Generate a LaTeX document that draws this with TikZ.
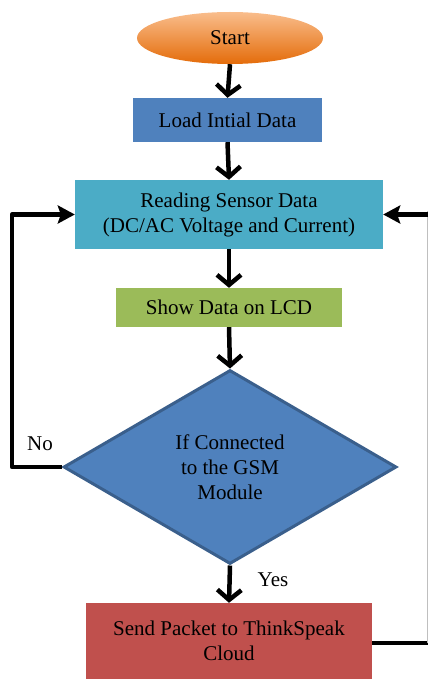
\documentclass[tikz,border=0pt]{standalone}
\usepackage{fontspec}
\setmainfont{Liberation Serif}
\usetikzlibrary{shapes.geometric,arrows.meta}
\definecolor{startTop}{HTML}{F9BD8C}
\definecolor{startBot}{HTML}{E46C0A}
\definecolor{loadBlue}{HTML}{4F81BD}
\definecolor{readCyan}{HTML}{4BACC6}
\definecolor{showGreen}{HTML}{9BBB59}
\definecolor{decEdge}{HTML}{3A5F8C}
\definecolor{sendRed}{HTML}{C0504D}
\tikzset{
  txt/.style={font=\fontsize{21}{25}\selectfont, align=center, inner sep=0pt},
  procbox/.style={txt, rectangle, draw=none},
  flow/.style={line width=4.5pt, black, -{Straight Barb[length=10pt,width=24pt,line join=miter]}},
  side/.style={line width=4.5pt, black, line join=round},
  sidearrow/.style={side, -{Stealth[length=17pt,width=18pt,inset=3pt]}},
  thinret/.style={line width=1pt, black!25},
}
\begin{document}
\begin{tikzpicture}[x=1pt,y=-1pt]
\useasboundingbox (0,0) rectangle (428,679);

\node[txt, ellipse, top color=startTop, bottom color=startBot,
      minimum width=186pt, minimum height=52pt] (start) at (230,38) {Start};
\node[procbox, fill=loadBlue, minimum width=189pt, minimum height=44pt] (load) at (227.5,120) {Load Intial Data};
\node[procbox, fill=readCyan, minimum width=308pt, minimum height=69pt] (read) at (229,214.5)
  {Reading Sensor Data\\(DC/AC Voltage and Current)};
\node[procbox, fill=showGreen, minimum width=226pt, minimum height=39pt] (show) at (229,307.5) {Show Data on LCD};
\node[txt, diamond, draw=decEdge, line width=3pt, fill=loadBlue,
      minimum width=333pt, minimum height=194pt] (dec) at (230,467)
  {If Connected\\to the GSM\\Module};
\node[procbox, fill=sendRed, minimum width=286pt, minimum height=76pt] (send) at (229,641)
  {Send Packet to ThinkSpeak\\Cloud};

\node[txt] (no) at (40,444) {No};
\node[txt] (yes) at (273,580) {Yes};

\coordinate (lc) at (12,214.5);
\coordinate (rb) at (428,643);
\coordinate (rt) at (428,214.5);

\draw[flow] (start.south) -- (load.north);
\draw[flow] (load.south) -- (read.north);
\draw[flow] (read.south) -- (show.north);
\draw[flow] (show.south) -- (dec.north);
\draw[flow] (dec.south) -- (send.north);

\draw[sidearrow] (dec.west) -| (lc) -- (read.west);
\draw[side] (send.east |- rb) -- (rb);
\draw[thinret] ([xshift=-0.7pt]rb) -- ([xshift=-0.7pt,yshift=4pt]rt);
\draw[sidearrow] (rt) -- (read.east);
\end{tikzpicture}
\end{document}
